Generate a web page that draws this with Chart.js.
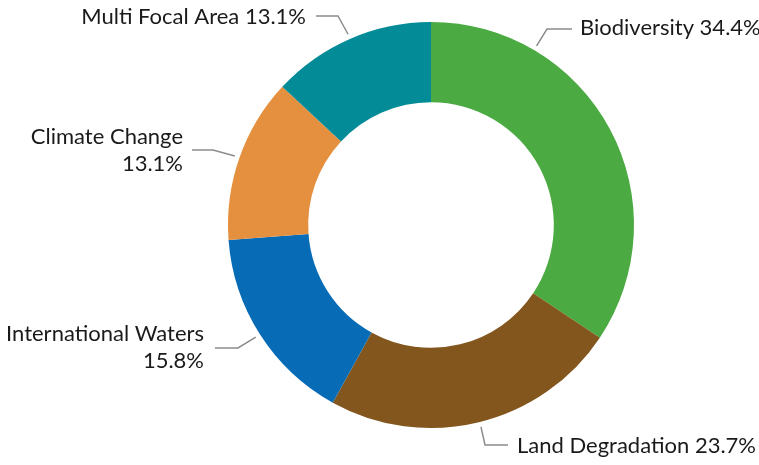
<!DOCTYPE html>
<html lang="en">
<head>
<meta charset="UTF-8">
<title>Focal areas</title>
<script src="https://cdn.jsdelivr.net/npm/chart.js"></script>
<style>
  * { box-sizing: border-box; margin: 0; padding: 0; }
  body { background: #fff; width: 759px; height: 465px; overflow: hidden; }
  .wrap { position: relative; width: 759px; height: 465px; }
</style>
</head>
<body>
<div class="wrap"><canvas id="chart"></canvas></div>
<script>
// data
const categories = ['Biodiversity', 'Land Degradation', 'International Waters', 'Climate Change', 'Multi Focal Area'];
const shares = [34.4, 23.7, 15.8, 13.1, 13.1];
const sliceColors = ['#4BAA42', '#82561C', '#076BB6', '#E5903F', '#048B98'];

// label placement, relative to the doughnut centre (angle in degrees, canvas coords)
const labelLayout = [
  { angle: -59.5, elbow: [116, -196], end: [141, -196], text: [149, -197], align: 'left', lines: 1 },
  { angle: 76.1, elbow: [54, 220], end: [77, 220], text: [86, 221], align: 'left', lines: 1 },
  { angle: 147.4, elbow: [-193, 123], end: [-216, 123], text: [-227, 122], align: 'right', lines: 2 },
  { angle: -160.6, elbow: [-218, -75], end: [-239, -75], text: [-248, -75], align: 'right', lines: 2 },
  { angle: -113.5, elbow: [-93, -209], end: [-115, -209], text: [-125, -208], align: 'right', lines: 1 }
];

const leaderLabels = {
  id: 'leaderLabels',
  afterDatasetsDraw(chart) {
    const ctx = chart.ctx;
    const arc = chart.getDatasetMeta(0).data[0];
    const cx = arc.x, cy = arc.y, r = arc.outerRadius + 5;
    ctx.save();
    ctx.font = '22px Lato, "Open Sans", sans-serif';
    ctx.fillStyle = '#1a1a1a';
    ctx.strokeStyle = '#8c8c8c';
    ctx.lineWidth = 1.5;
    ctx.textBaseline = 'middle';
    labelLayout.forEach((l, i) => {
      const a = l.angle * Math.PI / 180;
      ctx.beginPath();
      ctx.moveTo(cx + r * Math.cos(a), cy + r * Math.sin(a));
      ctx.lineTo(cx + l.elbow[0], cy + l.elbow[1]);
      ctx.lineTo(cx + l.end[0], cy + l.end[1]);
      ctx.stroke();
      const pct = shares[i].toFixed(1) + '%';
      ctx.textAlign = l.align;
      const tx = cx + l.text[0], ty = cy + l.text[1];
      if (l.lines === 2) {
        ctx.fillText(categories[i], tx, ty - 13.5);
        ctx.fillText(pct, tx, ty + 13.5);
      } else {
        ctx.fillText(categories[i] + ' ' + pct, tx, ty);
      }
    });
    ctx.restore();
  }
};

new Chart(document.getElementById('chart'), {
  type: 'doughnut',
  data: {
    labels: categories,
    datasets: [{
      data: shares,
      backgroundColor: sliceColors,
      borderWidth: 0
    }]
  },
  options: {
    responsive: true,
    maintainAspectRatio: false,
    animation: false,
    cutout: '60.5%',
    layout: { padding: { top: 22, bottom: 37, left: 228, right: 125 } },
    plugins: {
      legend: { display: false },
      tooltip: { enabled: false }
    }
  },
  plugins: [leaderLabels]
});
</script>
</body>
</html>
